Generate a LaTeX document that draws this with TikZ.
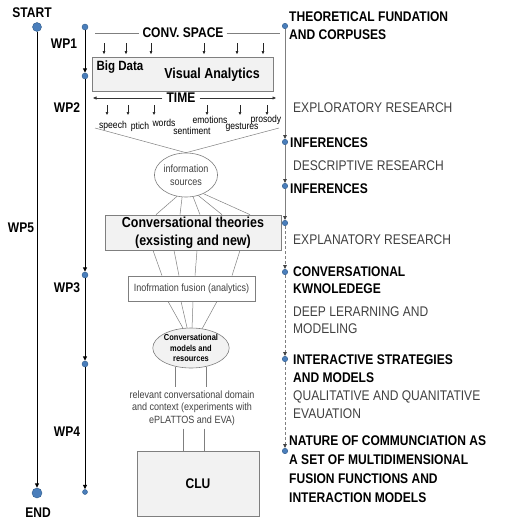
\documentclass[tikz,border=0pt]{standalone}
\usepackage{fontspec}
\setmainfont[FakeStretch=0.86]{Liberation Sans}
\usetikzlibrary{arrows.meta,shapes.geometric}
\definecolor{dotblue}{HTML}{4A7EBB}
\definecolor{dotedge}{HTML}{2E5A8A}
\definecolor{boxfill}{HTML}{F2F2F2}
\definecolor{linegray}{HTML}{7F7F7F}
\definecolor{txtgray}{HTML}{404040}
\begin{document}
\begin{tikzpicture}[x=1pt,y=-1pt,
 dot/.style={circle,fill=dotblue,draw=dotedge,line width=0.4pt,inner sep=0pt,minimum size=6pt},
 axisline/.style={line width=1pt,-{Triangle[length=4.5pt,width=4pt]}},
 raxis/.style={draw=linegray,line width=0.8pt,-{Triangle[length=4pt,width=3.5pt,color=black!75]}},
 raxisd/.style={raxis,dash pattern=on 3pt off 2pt},
 smallarr/.style={line width=0.6pt,black!85,-{Triangle[length=3pt,width=2.6pt]}},
 conn/.style={draw=linegray,line width=0.5pt},
 gbox/.style={draw=linegray,fill=boxfill,line width=0.7pt,inner sep=0pt},
 wbox/.style={draw=linegray,fill=white,line width=0.7pt,inner sep=0pt},
 hd/.style={font=\fontsize{14}{16}\selectfont\bfseries,inner sep=0pt},
 rb/.style={font=\fontsize{14}{16}\selectfont\bfseries,anchor=base west,inner sep=0pt},
 rr/.style={font=\fontsize{14}{16}\selectfont,text=txtgray,anchor=base west,inner sep=0pt},
 word/.style={font=\fontsize{10}{12}\selectfont,inner sep=0pt},
]
\useasboundingbox (0,0) rectangle (504,528);

% ---- left axis (WP5)
\node[hd] (start) at (32,13) {START};
\node[dot,minimum size=9pt] (s0) at (37,27) {};
\node[dot,minimum size=10pt] (e0) at (37,493) {};
\node[hd] (end) at (38,513) {END};
\node[hd] (wp5) at (21,228) {WP5};
\draw[axisline] (s0) -- (e0);

% ---- WP axis
\node[dot] (w0) at (85,27) {};
\node[dot] (w1) at (85,76) {};
\node[dot] (w2) at (85,275) {};
\node[dot] (w3) at (85,364) {};
\node[dot,minimum size=5pt] (w4) at (85,492) {};
\draw[axisline] (w0) -- (w1);
\draw[axisline] (w1) -- (w2);
\draw[axisline] (w2) -- (w3);
\draw[axisline] (w3) -- (w4);
\node[hd] (wp1) at (64,44) {WP1};
\node[hd] (wp2) at (67,108) {WP2};
\node[hd] (wp3) at (67,288) {WP3};
\node[hd] (wp4) at (67,432) {WP4};

% ---- right axis
\node[dot,minimum size=5.5pt] (r0) at (285,26) {};
\node[dot,minimum size=5.5pt] (r1) at (285,142) {};
\node[dot,minimum size=5.5pt] (r2) at (285,186) {};
\node[dot,minimum size=5.5pt] (r3) at (285,223) {};
\node[dot,minimum size=5.5pt] (r4) at (285,272) {};
\node[dot,minimum size=5.5pt] (r5) at (285,359) {};
\node[dot,minimum size=5.5pt] (r6) at (285,451) {};
\draw[raxis] (r0) -- (r1);
\draw[raxis] (r1) -- (r2);
\draw[raxis] (r2) -- (r3);
\draw[raxisd] (r3) -- (r4);
\draw[raxisd] (r4) -- (r5);
\draw[raxisd] (r5) -- (r6);

% ---- right texts
\node[rb] (t1a) at (289,21) {THEORETICAL FUNDATION};
\node[rb] (t1b) at (289,39) {AND CORPUSES};
\node[rr] (t2) at (293,112) {EXPLORATORY RESEARCH};
\node[rb] (t3) at (290,147) {INFERENCES};
\node[rr] (t4) at (293,170) {DESCRIPTIVE RESEARCH};
\node[rb] (t5) at (290,193) {INFERENCES};
\node[rr] (t6) at (293,244) {EXPLANATORY RESEARCH};
\node[rb] (t7a) at (293,276) {CONVERSATIONAL};
\node[rb] (t7b) at (293,293.5) {KWNOLEDEGE};
\node[rr] (t8a) at (293,316) {DEEP LERARNING AND};
\node[rr] (t8b) at (293,333.5) {MODELING};
\node[rb] (t9a) at (293,364) {INTERACTIVE STRATEGIES};
\node[rb] (t9b) at (293,382) {AND MODELS};
\node[rr] (t10a) at (293,400) {QUALITATIVE AND QUANITATIVE};
\node[rr] (t10b) at (293,418) {EVAUATION};
\node[rb] (t11a) at (289,445) {NATURE OF COMMUNCIATION AS};
\node[rb] (t11b) at (289,464) {A SET OF MULTIDIMENSIONAL};
\node[rb] (t11c) at (289,483) {FUSION FUNCTIONS AND};
\node[rb] (t11d) at (289,502) {INTERACTION MODELS};

% ---- CONV. SPACE
\node[hd] (conv) at (183,33) {CONV. SPACE};
\coordinate (cvl) at (95,33);
\coordinate (cvr) at (280,33);
\draw[conn] (cvl) -- ([xshift=-3pt]conv.west);
\draw[conn] ([xshift=3pt]conv.east) -- (cvr);

% ---- Big Data box
\node[gbox,minimum width=181pt,minimum height=34pt] (bd) at (182.5,74) {};
\node[font=\fontsize{13.4}{15}\selectfont\bfseries,inner sep=0pt] (bigdata) at (120,67.5) {Big Data};
\node[font=\fontsize{14.5}{16}\selectfont\bfseries,inner sep=0pt] (va) at (212,75) {Visual Analytics};
\foreach \x [count=\i] in {104,126,151,204,237,263} {
  \coordinate (up\i) at (\x,43);
  \draw[smallarr,shorten >=2.5pt] (up\i) -- (up\i |- bd.north);
}

% ---- TIME
\node[hd,fill=white,inner xsep=4pt] (time) at (181,98) {TIME};
\coordinate (tl) at (93,98);
\coordinate (tr) at (276,98);
\draw[line width=0.6pt,black!80,-{Triangle[length=3.5pt,width=3pt]}] (time.west) -- (tl);
\draw[line width=0.6pt,black!80,-{Triangle[length=3.5pt,width=3pt]}] (time.east) -- (tr);
\foreach \x [count=\i] in {107,128,154,207,240,267} {
  \coordinate (dn\i) at (\x,105);
  \coordinate (dm\i) at (\x,115);
  \draw[smallarr] (dn\i) -- (dm\i);
}

% ---- words
\node[word] (speech) at (113,125.5) {speech};
\node[word] (ptich) at (140,127) {ptich};
\node[word] (words) at (164,122.5) {words};
\node[word] (sentiment) at (192,130.5) {sentiment};
\node[word] (emotions) at (210,120) {emotions};
\node[word] (gestures) at (242,127.5) {gestures};
\node[word] (prosody) at (266,119.5) {prosody};

% ---- information sources
\node[ellipse,draw=linegray,fill=white,line width=0.6pt,minimum width=62pt,minimum height=44pt,inner sep=0pt,align=center,font=\fontsize{10.5}{13}\selectfont,text=txtgray] (info) at (186,175) {information\\sources};
\coordinate (cl) at (95,128);
\coordinate (cr) at (279,128);
\draw[conn] (cl) -- (info.north) -- (cr);

% ---- Conversational theories
\node[gbox,minimum width=176pt,minimum height=35pt,align=center,font=\fontsize{14.5}{18}\selectfont\bfseries] (theo) at (193,232.5) {Conversational theories\\(exsisting and new)};
\draw[conn] (info.-113) -- ([xshift=-37pt]theo.north);
\draw[conn] (info.-100) -- ([xshift=-13pt]theo.north);
\draw[conn] (info.-72) -- ([xshift=7pt]theo.north);
\draw[conn] (info.-59) -- ([xshift=29pt]theo.north);
\draw[conn] (info.-47) -- ([xshift=57pt]theo.north);

% ---- fusion
\node[wbox,minimum width=127pt,minimum height=25pt,font=\fontsize{10.5}{12}\selectfont,text=txtgray] (fus) at (191.5,288.5) {Inofrmation fusion (analytics)};
\draw[conn] ([xshift=-40pt]theo.south) -- ([xshift=-29.5pt]fus.north);
\draw[conn] ([xshift=-19pt]theo.south) -- ([xshift=-12.5pt]fus.north);
\draw[conn] ([xshift=4pt]theo.south) -- ([xshift=3.5pt]fus.north);
\draw[conn] ([xshift=47pt]theo.south) -- ([xshift=40.5pt]fus.north);

% ---- models
\node[ellipse,draw=linegray,fill=boxfill,line width=0.6pt,minimum width=66pt,minimum height=40pt,inner sep=0pt,align=center,font=\fontsize{8.7}{10.5}\selectfont\bfseries] (mod) at (191,348) {Conversational\\models and\\resources};
\draw[conn] ([xshift=-23.5pt]fus.south) -- (mod.112);
\draw[conn] ([xshift=-10.5pt]fus.south) -- (mod.101);
\draw[conn] ([xshift=1.5pt]fus.south) -- (mod.87);
\draw[conn] ([xshift=25.5pt]fus.south) -- (mod.60);

% ---- relevant domain text
\node[align=center,font=\fontsize{10.5}{12.5}\selectfont,text=txtgray,inner sep=0pt] (rel) at (192,408) {relevant conversational domain\\and context (experiments with\\ePLATTOS and EVA)};
\draw[conn,shorten >=3pt] (mod.-130) -- (mod.-130 |- rel.north);
\draw[conn,shorten >=3pt] (mod.-50) -- (mod.-50 |- rel.north);

% ---- CLU
\node[gbox,minimum width=122pt,minimum height=65pt,font=\fontsize{14}{16}\selectfont\bfseries] (clu) at (198,483.5) {CLU};
\draw[conn,shorten <=3pt] ([xshift=-9pt]rel.south) -- ([xshift=-9pt]rel.south |- clu.north);
\draw[conn,shorten <=3pt] ([xshift=12pt]rel.south) -- ([xshift=12pt]rel.south |- clu.north);
\end{tikzpicture}
\end{document}
